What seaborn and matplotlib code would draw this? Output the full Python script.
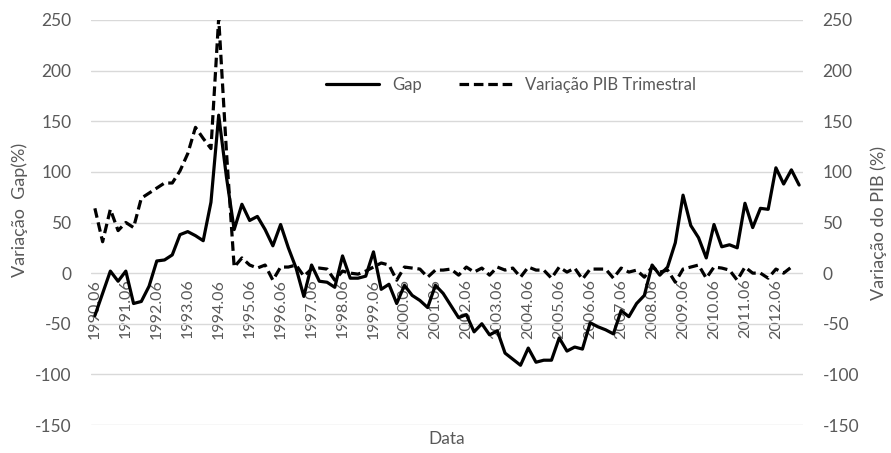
import numpy as np
import pandas as pd
import matplotlib
matplotlib.use("Agg")
import matplotlib.pyplot as plt
import seaborn as sns

# quarterly categories 1990.06 .. 2013.03
quarters = [f"{y}.{m:02d}" for y in range(1990, 2014) for m in (3, 6, 9, 12)][1:93]

gap = [-42, -20, 2, -8, 2, -30, -28, -13, 12, 13, 18, 38, 41, 37, 32, 70,
       156, 95, 43, 68, 52, 56, 43, 27, 48, 25, 5, -23, 8, -8, -9, -14,
       17, -5, -5, -3, 21, -16, -11, -30, -12, -22, -27, -34, -12, -20, -32, -44,
       -41, -58, -50, -61, -57, -79, -85, -91, -74, -88, -86, -86, -64, -77, -73, -75,
       -49, -53, -56, -60, -37, -43, -30, -22, 8, -2, 6, 30, 77, 47, 35, 15,
       48, 26, 28, 25, 69, 45, 64, 63, 104, 88, 102, 87]

pib = [64, 31, 63, 42, 50, 45, 74, 79, 84, 89, 89, 101, 118, 144, 133, 123,
       252, 120, 6, 15, 8, 5, 8, -7, 6, 6, 8, -3, 4, 5, 4, -7,
       2, 0, -1, 2, 6, 10, 8, -7, 6, 5, 4, -4, 3, 3, 4, -2,
       6, 1, 5, -2, 6, 3, 5, -4, 6, 3, 3, -5, 6, 1, 5, -6,
       4, 4, 4, -5, 5, 1, 3, -4, 6, 1, 3, -9, 4, 6, 8, -5,
       6, 5, 3, -7, 6, 0, 0, -5, 4, 0, 6, np.nan]

y_ticks = [-150, -100, -50, 0, 50, 100, 150, 200, 250]

GREY = "#595959"

df = pd.DataFrame({"Data": quarters, "pos": range(len(quarters)),
                   "Gap": gap, "Variação PIB Trimestral": pib})
long = df.melt(id_vars=["Data", "pos"], var_name="serie", value_name="valor")

sns.set_theme(style="white")
plt.rcParams["font.family"] = ["Lato", "DejaVu Sans"]
plt.rcParams["axes.unicode_minus"] = False

fig = plt.figure(figsize=(8.91, 4.53), dpi=100)
ax = fig.add_axes([91 / 891, 1 - 425 / 453, 712 / 891, 405 / 453])

sns.lineplot(data=long, x="pos", y="valor", style="serie", color="black",
             dashes={"Gap": "", "Variação PIB Trimestral": (3, 1.5)},
             linewidth=2.3, ax=ax, legend=True)

ax.set_xlim(-0.5, len(quarters) - 0.5)
ax.set_ylim(-150, 250)
ax.set_yticks(y_ticks)
ax.yaxis.grid(True, color="#d9d9d9", linewidth=1)
ax.set_axisbelow(True)
# category labels hang from the zero line
ax.spines["bottom"].set_position(("data", 0))
for s in ax.spines.values():
    s.set_visible(False)

tick_pos = list(range(0, len(quarters), 4))
ax.set_xticks(tick_pos)
ax.set_xticklabels([quarters[i] for i in tick_pos], rotation=90, color=GREY, fontsize=11.5)
ax.tick_params(axis="x", length=0, pad=4)
ax.tick_params(axis="y", length=0, pad=14, labelsize=12.5, labelcolor=GREY)

ax.set_xlabel("Data", color=GREY, fontsize=12.5)
ax.xaxis.set_label_coords(0.5, -0.015)
ax.set_ylabel("Variação  Gap(%)", color=GREY, fontsize=13)
ax.yaxis.set_label_coords(-0.088, 0.53)

ax2 = ax.twinx()
ax2.set_ylim(-150, 250)
ax2.set_yticks(y_ticks)
for s in ax2.spines.values():
    s.set_visible(False)
ax2.tick_params(axis="y", length=0, pad=14, labelsize=12.5, labelcolor=GREY)
ax2.grid(False)
ax2.set_ylabel("Variação do PIB (%)", color=GREY, fontsize=13)
ax2.yaxis.set_label_coords(1.095, 0.5)

handles, labels = ax.get_legend_handles_labels()
ax.legend(handles, labels, loc="center", bbox_to_anchor=(511 / 891, 1 - 85 / 453),
          bbox_transform=fig.transFigure, ncol=2, frameon=False, fontsize=12,
          handlelength=3.2, columnspacing=2.2, labelcolor=GREY)

fig.savefig("out.png", dpi=100)
